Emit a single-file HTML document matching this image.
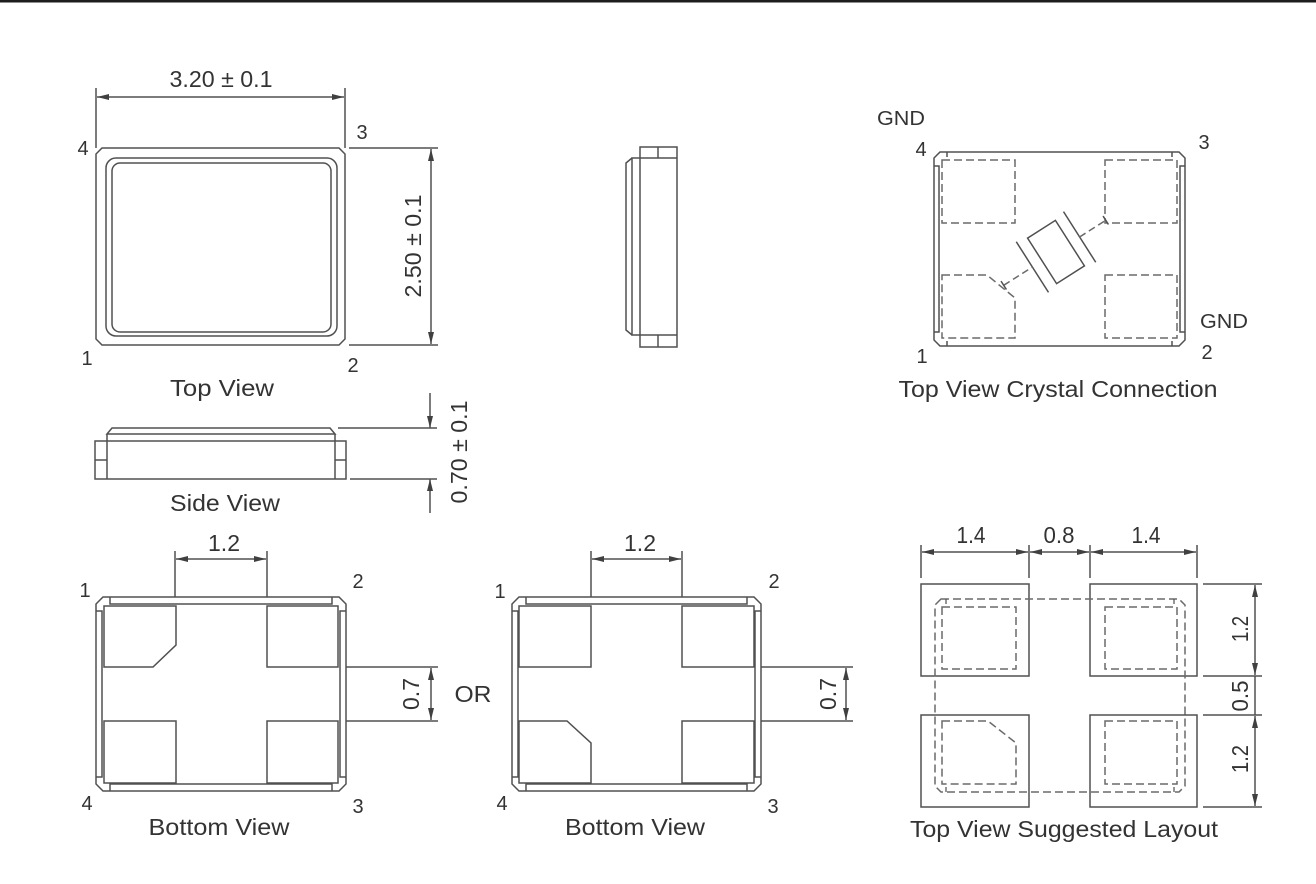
<!DOCTYPE html>
<html><head><meta charset="utf-8"><style>
html,body{margin:0;padding:0;background:#fff;}
svg{display:block;}
.s{fill:none;stroke:#505050;stroke-width:1.5;}
.d{fill:none;stroke:#6a6a6a;stroke-width:1.5;stroke-dasharray:8 4;}
.t{font-family:"Liberation Sans",Arial,sans-serif;font-size:23px;fill:#333;text-anchor:middle;}
.n{font-family:"Liberation Sans",Arial,sans-serif;font-size:20px;fill:#333;text-anchor:middle;}
</style></head><body>
<svg width="1316" height="884" viewBox="0 0 1316 884" xmlns="http://www.w3.org/2000/svg">
<defs>
<marker id="a" viewBox="0 0 12 6" refX="12" refY="3" markerWidth="12" markerHeight="6" markerUnits="userSpaceOnUse" orient="auto-start-reverse"><path d="M0,0 L12,3 L0,6 z" fill="#404040"/></marker>
</defs>
<rect x="0" y="0" width="1316" height="884" fill="#fff"/>
<rect x="0" y="0" width="1316" height="2.5" fill="#1e1e1e"/>

<!-- ============ TOP VIEW ============ -->
<path class="s" d="M102,148 H339 L345,154 V339 L339,345 H102 L96,339 V154 Z"/>
<rect class="s" x="106" y="158" width="231" height="178" rx="10"/>
<rect class="s" x="112" y="163" width="219" height="169" rx="8"/>
<line class="s" x1="96" y1="88" x2="96" y2="148"/>
<line class="s" x1="345" y1="88" x2="345" y2="148"/>
<line class="s" x1="97" y1="97" x2="344" y2="97" marker-start="url(#a)" marker-end="url(#a)"/>
<line class="s" x1="349" y1="148" x2="438" y2="148"/>
<line class="s" x1="349" y1="345" x2="438" y2="345"/>
<line class="s" x1="431" y1="149" x2="431" y2="344" marker-start="url(#a)" marker-end="url(#a)"/>
<text class="t" x="221" y="87" textLength="103" lengthAdjust="spacingAndGlyphs">3.20 ± 0.1</text>
<text class="t" transform="translate(421,246) rotate(-90)" x="0" y="0" textLength="103" lengthAdjust="spacingAndGlyphs">2.50 ± 0.1</text>
<text class="n" x="83" y="155">4</text>
<text class="n" x="362" y="139">3</text>
<text class="n" x="87" y="365">1</text>
<text class="n" x="353" y="372">2</text>
<text class="t" x="222" y="396" textLength="104" lengthAdjust="spacingAndGlyphs">Top View</text>

<!-- ============ SIDE VIEW ============ -->
<path class="s" d="M107,434 L112,428 H330 L335,434 Z"/>
<line class="s" x1="107" y1="434" x2="107" y2="479"/>
<line class="s" x1="335" y1="434" x2="335" y2="479"/>
<rect class="s" x="95" y="441" width="251" height="38"/>
<line class="s" x1="95" y1="460" x2="107" y2="460"/>
<line class="s" x1="335" y1="460" x2="346" y2="460"/>
<line class="s" x1="338" y1="428" x2="437" y2="428"/>
<line class="s" x1="350" y1="479" x2="437" y2="479"/>
<line class="s" x1="430" y1="393" x2="430" y2="428" marker-end="url(#a)"/>
<line class="s" x1="430" y1="513" x2="430" y2="479" marker-end="url(#a)"/>
<text class="t" transform="translate(467,452) rotate(-90)" x="0" y="0" textLength="103" lengthAdjust="spacingAndGlyphs">0.70 ± 0.1</text>
<text class="t" x="225" y="511" textLength="110" lengthAdjust="spacingAndGlyphs">Side View</text>

<!-- ============ SIDE PROFILE ============ -->
<rect class="s" x="640" y="147" width="37" height="200"/>
<line class="s" x1="640" y1="158" x2="677" y2="158"/>
<line class="s" x1="640" y1="335" x2="677" y2="335"/>
<line class="s" x1="658" y1="147" x2="658" y2="158"/>
<line class="s" x1="658" y1="335" x2="658" y2="347"/>
<path class="s" d="M640,158 H632 V335 H640"/>
<path class="s" d="M632,158 L626,163 V330 L632,335"/>

<!-- ============ TOP VIEW CRYSTAL CONNECTION ============ -->
<path class="s" d="M940,152 H1179 L1185,158 V340 L1179,346 H940 L934,340 V158 Z"/>
<path class="s" d="M934,166 H939 V332 H934"/>
<path class="s" d="M1185,166 H1180 V332 H1185"/>
<path class="s" d="M947,152 V157 M1172,152 V157 M947,346 V341 M1172,346 V341"/>
<rect class="d" x="942" y="160" width="73" height="63"/>
<rect class="d" x="1105" y="160" width="72" height="63"/>
<path class="d" d="M942,275 H987 L1015,298 V338 H942 Z"/>
<rect class="d" x="1105" y="275" width="72" height="63"/>
<g transform="translate(1056,252) rotate(-32.5)">
<rect class="s" x="-16.5" y="-27" width="33" height="54"/>
<line class="s" x1="-28" y1="-30" x2="-28" y2="30"/>
<line class="s" x1="28" y1="-30" x2="28" y2="30"/>
<line class="d" x1="-62" y1="0" x2="-28" y2="0" style="stroke-dasharray:7 4"/>
<line class="d" x1="28" y1="0" x2="59" y2="0" style="stroke-dasharray:7 4"/>
<line class="s" x1="-62" y1="-5" x2="-62" y2="5"/>
<line class="s" x1="59" y1="-5" x2="59" y2="5"/>
</g>
<text class="n" x="901" y="125" textLength="48" lengthAdjust="spacingAndGlyphs">GND</text>
<text class="n" x="921" y="156">4</text>
<text class="n" x="1204" y="149">3</text>
<text class="n" x="1224" y="328" textLength="48" lengthAdjust="spacingAndGlyphs">GND</text>
<text class="n" x="1207" y="359">2</text>
<text class="n" x="922" y="363">1</text>
<text class="t" x="1058" y="397" textLength="319" lengthAdjust="spacingAndGlyphs">Top View Crystal Connection</text>

<!-- ============ BOTTOM VIEW 1 ============ -->
<path class="s" d="M103,597 H339 L346,604 V784 L339,791 H103 L96,784 V604 Z"/>
<path class="s" d="M110,597 V604 H332 V597"/>
<path class="s" d="M96,611 H102 V777 H96"/>
<path class="s" d="M346,611 H340 V777 H346"/>
<path class="s" d="M110,791 V784 H332 V791"/>
<path class="s" d="M104,606 H176 V645 L153,667 H104 Z"/>
<rect class="s" x="267" y="606" width="71" height="61"/>
<rect class="s" x="104" y="721" width="72" height="62"/>
<rect class="s" x="267" y="721" width="71" height="62"/>
<line class="s" x1="175" y1="551" x2="175" y2="597"/>
<line class="s" x1="267" y1="551" x2="267" y2="597"/>
<line class="s" x1="176" y1="559" x2="266" y2="559" marker-start="url(#a)" marker-end="url(#a)"/>
<line class="s" x1="346" y1="667" x2="438" y2="667"/>
<line class="s" x1="346" y1="721" x2="438" y2="721"/>
<line class="s" x1="431" y1="668" x2="431" y2="720" marker-start="url(#a)" marker-end="url(#a)"/>
<text class="t" x="224" y="551" textLength="32" lengthAdjust="spacingAndGlyphs">1.2</text>
<text class="t" transform="translate(419,694) rotate(-90)" x="0" y="0" textLength="32" lengthAdjust="spacingAndGlyphs">0.7</text>
<text class="n" x="85" y="597">1</text>
<text class="n" x="358" y="588">2</text>
<text class="n" x="87" y="810">4</text>
<text class="n" x="358" y="813">3</text>
<text class="t" x="219" y="835" textLength="141" lengthAdjust="spacingAndGlyphs">Bottom View</text>

<text class="t" x="473" y="702" textLength="37" lengthAdjust="spacingAndGlyphs">OR</text>

<!-- ============ BOTTOM VIEW 2 ============ -->
<path class="s" d="M519,597 H754 L761,604 V784 L754,791 H519 L512,784 V604 Z"/>
<path class="s" d="M526,597 V604 H747 V597"/>
<path class="s" d="M512,611 H518 V777 H512"/>
<path class="s" d="M761,611 H755 V777 H761"/>
<path class="s" d="M526,791 V784 H747 V791"/>
<rect class="s" x="519" y="606" width="72" height="61"/>
<rect class="s" x="682" y="606" width="72" height="61"/>
<path class="s" d="M519,721 H567 L591,743 V783 H519 Z"/>
<rect class="s" x="682" y="721" width="72" height="62"/>
<line class="s" x1="591" y1="551" x2="591" y2="597"/>
<line class="s" x1="682" y1="551" x2="682" y2="597"/>
<line class="s" x1="592" y1="559" x2="681" y2="559" marker-start="url(#a)" marker-end="url(#a)"/>
<line class="s" x1="761" y1="667" x2="853" y2="667"/>
<line class="s" x1="761" y1="721" x2="853" y2="721"/>
<line class="s" x1="846" y1="668" x2="846" y2="720" marker-start="url(#a)" marker-end="url(#a)"/>
<text class="t" x="640" y="551" textLength="32" lengthAdjust="spacingAndGlyphs">1.2</text>
<text class="t" transform="translate(836,694) rotate(-90)" x="0" y="0" textLength="32" lengthAdjust="spacingAndGlyphs">0.7</text>
<text class="n" x="500" y="598">1</text>
<text class="n" x="774" y="588">2</text>
<text class="n" x="502" y="810">4</text>
<text class="n" x="773" y="813">3</text>
<text class="t" x="635" y="835" textLength="140" lengthAdjust="spacingAndGlyphs">Bottom View</text>

<!-- ============ SUGGESTED LAYOUT ============ -->
<rect class="s" x="921" y="584" width="108" height="92"/>
<rect class="s" x="1090" y="584" width="107" height="92"/>
<rect class="s" x="921" y="715" width="108" height="92"/>
<rect class="s" x="1090" y="715" width="107" height="92"/>
<path class="d" d="M941,599 H1179 L1185,605 V786 L1179,792 H941 L935,786 V605 Z"/>
<path class="s" d="M946,599 V604 M1174,599 V604 M946,792 V787 M1174,792 V787" style="stroke-width:1.2"/>
<rect class="d" x="942" y="607" width="74" height="62"/>
<rect class="d" x="1105" y="607" width="72" height="62"/>
<path class="d" d="M942,721 H988 L1016,743 V784 H942 Z"/>
<rect class="d" x="1105" y="721" width="72" height="63"/>
<line class="s" x1="921" y1="545" x2="921" y2="578"/>
<line class="s" x1="1029" y1="545" x2="1029" y2="578"/>
<line class="s" x1="1090" y1="545" x2="1090" y2="578"/>
<line class="s" x1="1197" y1="545" x2="1197" y2="578"/>
<line class="s" x1="922" y1="552" x2="1028" y2="552" marker-start="url(#a)" marker-end="url(#a)"/>
<line class="s" x1="1030" y1="552" x2="1089" y2="552" marker-start="url(#a)" marker-end="url(#a)"/>
<line class="s" x1="1091" y1="552" x2="1196" y2="552" marker-start="url(#a)" marker-end="url(#a)"/>
<line class="s" x1="1203" y1="584" x2="1262" y2="584"/>
<line class="s" x1="1203" y1="676" x2="1262" y2="676"/>
<line class="s" x1="1203" y1="715" x2="1262" y2="715"/>
<line class="s" x1="1203" y1="807" x2="1262" y2="807"/>
<line class="s" x1="1255" y1="585" x2="1255" y2="675" marker-start="url(#a)" marker-end="url(#a)"/>
<line class="s" x1="1255" y1="676" x2="1255" y2="715"/>
<line class="s" x1="1255" y1="716" x2="1255" y2="806" marker-start="url(#a)" marker-end="url(#a)"/>
<text class="t" x="971" y="543" textLength="29" lengthAdjust="spacingAndGlyphs">1.4</text>
<text class="t" x="1059" y="543" textLength="31" lengthAdjust="spacingAndGlyphs">0.8</text>
<text class="t" x="1146" y="543" textLength="29" lengthAdjust="spacingAndGlyphs">1.4</text>
<text class="t" transform="translate(1248,629) rotate(-90)" x="0" y="0" textLength="26" lengthAdjust="spacingAndGlyphs">1.2</text>
<text class="t" transform="translate(1248,696) rotate(-90)" x="0" y="0" textLength="31" lengthAdjust="spacingAndGlyphs">0.5</text>
<text class="t" transform="translate(1248,759) rotate(-90)" x="0" y="0" textLength="28" lengthAdjust="spacingAndGlyphs">1.2</text>
<text class="t" x="1064" y="837" textLength="308" lengthAdjust="spacingAndGlyphs">Top View Suggested Layout</text>
</svg>
</body></html>
